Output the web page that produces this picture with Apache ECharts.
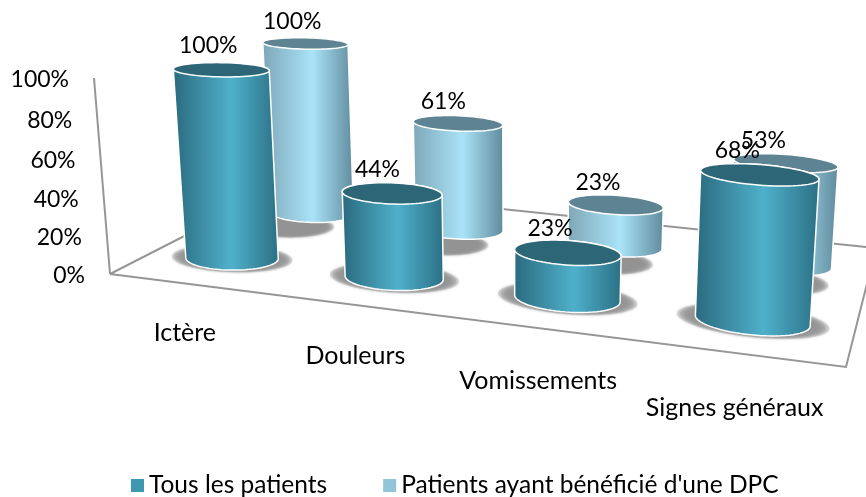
<!DOCTYPE html>
<html>
<head>
<meta charset="utf-8">
<style>html,body{margin:0;padding:0;background:#fff}#main{width:866px;height:497px}</style>
<script src="https://cdn.jsdelivr.net/npm/echarts@6/dist/echarts.min.js"></script>
</head>
<body>
<div id="main"></div>
<script>
var categories = ['Ictère', 'Douleurs', 'Vomissements', 'Signes généraux'];
var seriesNames = ['Tous les patients', "Patients ayant bénéficié d'une DPC"];
var allPatients = [100, 44, 23, 68];
var dpcPatients = [100, 61, 23, 53];
var yTicks = [0, 20, 40, 60, 80, 100];

var FONT = 'Lato';
var GRID_W = 400, GRID_H = 100;

// corners of the floor on screen, then the vertical vanishing term
var P0 = [110, 274], P1 = [846, 367], P2 = [876, 248], P3 = [282, 186];
var sx = P0[0] - P1[0] + P2[0] - P3[0], sy = P0[1] - P1[1] + P2[1] - P3[1];
var dx1 = P1[0] - P2[0], dx2 = P3[0] - P2[0], dy1 = P1[1] - P2[1], dy2 = P3[1] - P2[1];
var den = dx1 * dy2 - dx2 * dy1;
var g = (sx * dy2 - dx2 * sy) / den, h = (dx1 * sy - sx * dy1) / den;
var a = P1[0] - P0[0] + g * P1[0], b = P3[0] - P0[0] + h * P3[0];
var d = P1[1] - P0[1] + g * P1[1], e = P3[1] - P0[1] + h * P3[1];
var s = -0.038;
var c1 = 94 * (1 + s) - P0[0], c2 = 78 * (1 + s) - P0[1];

function project(u, v, w) {
    var z = g * u + h * v + 1 + w * s;
    return [(a * u + b * v + P0[0] + w * c1) / z, (d * u + e * v + P0[1] + w * c2) / z];
}

function ring(cu, cv, w, ru, rv) {
    var pts = [];
    for (var i = 0; i < 72; i++) {
        var t = i / 72 * Math.PI * 2;
        pts.push(project(cu + ru * Math.cos(t), cv + rv * Math.sin(t), w));
    }
    return pts;
}

function hull(points) {
    var pts = points.slice().sort(function (p, q) { return p[0] - q[0] || p[1] - q[1]; });
    function cross(o, p, q) { return (p[0] - o[0]) * (q[1] - o[1]) - (p[1] - o[1]) * (q[0] - o[0]); }
    var lo = [], up = [];
    pts.forEach(function (p) {
        while (lo.length > 1 && cross(lo[lo.length - 2], lo[lo.length - 1], p) <= 0) lo.pop();
        lo.push(p);
    });
    pts.reverse().forEach(function (p) {
        while (up.length > 1 && cross(up[up.length - 2], up[up.length - 1], p) <= 0) up.pop();
        up.push(p);
    });
    return lo.slice(0, -1).concat(up.slice(0, -1));
}

var rows = [
    {v: 0.24, du: -0.006, shDv: 0, shU: 1.2, shV: 1.05, labelDy: -24, stops: ['#2a6a7e', '#4fb0cb', '#2b6f84'], top: '#2c6677'},
    {v: 0.74, du: -0.004, shDv: -0.16, shU: 0.95, shV: 1, labelDy: -22, stops: ['#7ea7b7', '#aae3f8', '#5f8a9b'], top: '#5e8494'}
];
var RU = 0.062, RV = 0.105;

function cylinder(row) {
    var cfg = rows[row];
    return function (params, api) {
        var pt = api.coord([api.value(0), api.value(1)]);
        var u = pt[0] / GRID_W + cfg.du;
        var w = (GRID_H - pt[1]) / GRID_H * (1 + 0.07 * u * u);
        var ru = RU * (1.07 + 0.15 * u);
        var base = ring(u, cfg.v, 0, ru, RV);
        var top = ring(u, cfg.v, w, ru, RV);
        var topCenter = project(u, cfg.v, w);
        var children = [];
        // soft floor shadow: a few faint rings on top of each other
        for (var k = 0; k < 6; k++) {
            var f = 0.88 + k * 0.045;
            children.push({type: 'polygon',
                shape: {points: ring(u, cfg.v + cfg.shDv, 0, ru * cfg.shU * f, RV * cfg.shV * f)},
                style: {fill: '#939393', opacity: 0.3, shadowBlur: 3, shadowColor: '#939393'}});
        }
        children.push(
            {type: 'polygon', shape: {points: hull(base.concat(top))},
                style: {
                    fill: new echarts.graphic.LinearGradient(0, 0, 1, 0, [
                        {offset: 0, color: cfg.stops[0]},
                        {offset: 0.55, color: cfg.stops[1]},
                        {offset: 1, color: cfg.stops[2]}
                    ]),
                    stroke: '#fff', lineWidth: 1.5
                }},
            {type: 'polygon', shape: {points: top},
                style: {fill: cfg.top, stroke: '#fff', lineWidth: 1.5}},
            {type: 'text', z2: 10,
                style: {
                    text: api.value(1) + '%', x: topCenter[0] - 13 - 12 * u * u, y: topCenter[1] + cfg.labelDy,
                    fill: '#000', font: '23px ' + FONT, textAlign: 'center', textVerticalAlign: 'middle'
                }}
        );
        return {type: 'group', children: children};
    };
}

// floor frame, wall axis and the axis labels
function frame(params, api) {
    var corners = [[0, 0], [1, 0], [1, 1], [0, 1], [0, 0]].map(function (c) { return project(c[0], c[1], 0); });
    var children = [
        {type: 'polyline', shape: {points: corners}, style: {fill: 'none', stroke: '#969696', lineWidth: 2}},
        {type: 'line', shape: {x1: corners[0][0], y1: corners[0][1], x2: project(0, 0, 1)[0], y2: project(0, 0, 1)[1]},
            style: {stroke: '#969696', lineWidth: 2}}
    ];
    yTicks.forEach(function (t) {
        var yPix = api.coord([0, t])[1];
        var p = project(0, 0, (GRID_H - yPix) / GRID_H);
        children.push({type: 'text', style: {
            text: t + '%', x: p[0] - 25, y: p[1] + 2, fill: '#000',
            font: '23px ' + FONT, textAlign: 'right', textVerticalAlign: 'middle'
        }});
    });
    categories.forEach(function (name, i) {
        var p = project(0.102 + 0.905 * api.coord([i, 0])[0] / GRID_W, -0.33, 0);
        children.push({type: 'text', style: {
            text: name, x: p[0], y: p[1] - 1, fill: '#000',
            font: '25px ' + FONT, textAlign: 'center', textVerticalAlign: 'middle'
        }});
    });
    return {type: 'group', children: children};
}

var myChart = echarts.init(document.getElementById('main'));
myChart.setOption({
    animation: false,
    legend: {
        data: seriesNames, left: 126, top: 468, icon: 'rect', itemWidth: 13, itemHeight: 13, itemGap: 56,
        textStyle: {fontFamily: FONT, fontSize: 24.5, color: '#000'}
    },
    grid: {left: 0, top: 0, width: GRID_W, height: GRID_H},
    xAxis: {type: 'category', data: categories, show: false},
    yAxis: {type: 'value', min: 0, max: 100, interval: 20, show: false, splitLine: {show: false}},
    series: [
        {type: 'custom', silent: true, z: 1, clip: false, renderItem: frame, data: [[0, 0]]},
        {type: 'custom', name: seriesNames[1], z: 2, clip: false, renderItem: cylinder(1),
            itemStyle: {color: '#92c5d7'}, encode: {x: 0, y: 1},
            data: dpcPatients.map(function (val, i) { return [i, val]; })},
        {type: 'custom', name: seriesNames[0], z: 3, clip: false, renderItem: cylinder(0),
            itemStyle: {color: '#3d98b0'}, encode: {x: 0, y: 1},
            data: allPatients.map(function (val, i) { return [i, val]; })}
    ]
});
</script>
</body>
</html>
